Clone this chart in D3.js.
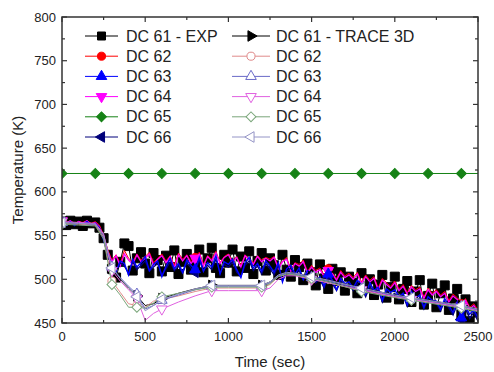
<!DOCTYPE html>
<html>
<head>
<meta charset="utf-8">
<script src="https://cdn.jsdelivr.net/npm/d3@7"></script>
<style>
    body { margin: 0; background: #fff; }
    svg { display: block; font-family: "Liberation Sans", Arial, sans-serif; }
</style>
</head>
<body>
<svg id="chart" width="494" height="372"></svg>
<script>
// measured series, one sample every 25 s
const expTime = d3.range(0, 2501, 25);
const dc61Exp = [566,562,567,563,566,561,567,564,565,559,
                 547,528,512,502,520,541,538,510,524,531,
                 518,507,530,522,509,527,514,533,506,520,
                 529,511,518,534,508,524,536,513,507,528,
                 519,534,509,526,513,532,506,521,530,510,
                 524,516,505,528,511,503,522,514,499,518,
                 508,493,517,501,489,512,498,508,487,503,
                 496,484,507,490,500,482,494,505,479,491,
                 503,477,489,498,474,486,499,471,481,495,
                 468,484,493,465,478,489,460,477,452,469,
                 462];
const dc62Exp = [566,565,567,564,566,565,567,564,566,562,
                 550,534,522,528,518,533,524,520,529,522,
                 526,531,519,524,529,521,527,516,530,523,
                 528,520,525,531,517,527,523,532,519,526,
                 529,521,526,516,528,523,519,527,522,525,
                 523,526,514,521,525,511,519,517,522,509,
                 516,510,513,505,512,507,501,510,504,507,
                 502,508,497,505,499,503,490,501,496,492,
                 498,489,494,485,493,488,491,480,490,484,
                 488,482,486,476,483,479,472,478,468,472,
                 465];
const dc63Exp = [565,563,566,562,565,563,566,562,564,558,
                 545,528,515,509,521,518,505,523,514,519,
                 526,510,517,521,503,515,524,512,518,508,
                 522,516,511,525,509,519,514,527,506,520,
                 517,523,511,502,519,525,513,518,509,521,
                 515,508,519,497,512,516,506,513,500,510,
                 507,498,503,492,506,499,488,501,495,497,
                 490,499,494,483,496,487,491,476,489,485,
                 488,480,484,471,486,478,482,468,480,476,
                 475,466,478,470,462,474,456,469,460,465,
                 456];
const dc64Exp = [567,564,567,563,566,564,567,563,565,560,
                 548,532,520,527,515,529,522,517,528,520,
                 524,529,516,523,527,519,526,513,528,521,
                 527,518,524,529,515,526,521,530,518,525,
                 528,519,525,514,527,522,517,526,520,524,
                 521,525,512,520,523,509,518,515,520,507,
                 514,508,511,503,510,506,499,508,502,505,
                 500,506,495,503,497,501,488,499,494,490,
                 496,487,492,483,491,486,489,478,488,482,
                 486,480,484,474,481,477,470,476,466,470,
                 462];
const dc66Exp = [565,562,566,561,565,562,566,562,564,559,
                 546,530,513,508,519,515,507,520,511,516,
                 521,509,514,518,505,512,520,510,515,507,
                 519,513,508,522,510,516,511,523,507,517,
                 514,520,508,503,516,521,510,515,506,518,
                 512,505,516,498,509,513,504,510,499,507,
                 503,496,500,490,503,495,487,498,492,494,
                 487,495,490,480,492,484,488,474,486,481,
                 484,477,481,469,482,475,479,466,477,473,
                 472,464,475,467,459,471,454,466,455,462,
                 452];
const expMarkTimes = [0, 800, 1600, 2400];

// DC 65 measured, flat
const dc65Time = [0, 200, 400, 600, 800, 1000, 1200, 1400, 1600, 1800, 2000, 2200, 2400, 2500];
const dc65Exp  = [621, 621, 621, 621, 621, 621, 621, 621, 621, 621, 621, 621, 621, 621];

// TRACE 3D results
const traceTime = [0,100,200,250,300,350,400,450,500,550,600,700,800,900,1000,1100,1200,1250,1300,1350,1400,1500,1600,1800,2000,2100,2200,2400,2500];
const dc61Trace = [565,564,563,550,512,500,490,481,470,472,478,484,489,493,493,493,493,497,505,508,507,503,499,490,482,479,476,470,466];
const dc62Trace = [564,563,562,548,498,485,472,470,468,475,477,481,486,490,490,490,490,494,503,506,505,500,496,487,480,477,474,468,464];
const dc63Trace = [565,564,563,551,514,502,492,483,466,470,476,482,488,492,492,492,492,496,504,507,506,502,498,489,481,478,475,469,465];
const dc64Trace = [566,565,564,552,510,498,488,478,453,461,466,474,481,487,487,487,487,490,500,504,504,500,496,488,480,477,474,468,464];
const dc65Trace = [563,562,561,546,494,482,468,468,467,473,480,484,488,491,491,491,491,495,503,506,505,501,497,486,479,476,473,467,463];
const dc66Trace = [565,564,563,550,513,501,491,480,464,470,477,483,489,493,493,493,493,497,505,508,507,503,499,490,482,479,476,470,466];
const traceMarkTimes = [0, 300, 450, 600, 900, 1200, 1500, 1800, 2100, 2400];

const xTicks = [0, 500, 1000, 1500, 2000, 2500];
const yTicks = [450, 500, 550, 600, 650, 700, 750, 800];

const svg = d3.select("#chart");
const x = d3.scaleLinear().domain([0, 2500]).range([62, 478]);
const y = d3.scaleLinear().domain([450, 800]).range([323, 17]);

// marker shapes
function markerPath(shape, size) {
    const s = size * size;
    if (shape === "square") return d3.symbol().type(d3.symbolSquare).size(s)();
    if (shape === "circle") return d3.symbol().type(d3.symbolCircle).size(s * 0.8)();
    if (shape === "diamond") return d3.symbol().type(d3.symbolSquare).size(s * 0.6)();
    return d3.symbol().type(d3.symbolTriangle).size(s * 0.6)();
}
function markerRotate(shape) {
    return { down: 180, left: -90, right: 90, diamond: 45 }[shape] || 0;
}

// draw order; key = legend position
const series = [
    { key: 0, name: "DC 61 - EXP", t: expTime, v: dc61Exp, color: "#000", shape: "square", fill: "#000", marks: null, size: 8, plotSize: 9, lw: 1 },
    { key: 1, name: "DC 62", t: expTime, v: dc62Exp, color: "#ff0000", shape: "circle", fill: "#ff0000", marks: expMarkTimes, size: 8, lw: 1 },
    { key: 3, name: "DC 64", t: expTime, v: dc64Exp, color: "#ff00ff", shape: "down", fill: "#ff00ff", marks: expMarkTimes, size: 9, lw: 1.3 },
    { key: 5, name: "DC 66", t: expTime, v: dc66Exp, color: "#00007a", shape: "left", fill: "#00007a", marks: expMarkTimes, size: 9, lw: 1.3 },
    { key: 2, name: "DC 63", t: expTime, v: dc63Exp, color: "#0000ff", shape: "up", fill: "#0000ff", marks: expMarkTimes, size: 9, lw: 1.4 },
    { key: 4, name: "DC 65", t: dc65Time, v: dc65Exp, color: "#168216", shape: "diamond", fill: "#168216", marks: dc65Time.slice(0, -1), size: 9, lw: 1 },
    { key: 6, name: "DC 61 - TRACE 3D", t: traceTime, v: dc61Trace, color: "#000", shape: "right", fill: "#000", marks: traceMarkTimes, size: 9, lw: 1 },
    { key: 7, name: "DC 62", t: traceTime, v: dc62Trace, color: "#e08a8a", shape: "circle", fill: "#fff", marks: traceMarkTimes, size: 8, lw: 1 },
    { key: 8, name: "DC 63", t: traceTime, v: dc63Trace, color: "#6a6ac8", shape: "up", fill: "#fff", marks: traceMarkTimes, size: 9, lw: 1 },
    { key: 9, name: "DC 64", t: traceTime, v: dc64Trace, color: "#e060e0", shape: "down", fill: "#fff", marks: traceMarkTimes, size: 9, lw: 1 },
    { key: 10, name: "DC 65", t: traceTime, v: dc65Trace, color: "#7aa67a", shape: "diamond", fill: "#fff", marks: traceMarkTimes, size: 9, lw: 1 },
    { key: 11, name: "DC 66", t: traceTime, v: dc66Trace, color: "#9494c6", shape: "left", fill: "#fff", marks: traceMarkTimes, size: 9, lw: 1 }
];

svg.append("defs").append("clipPath")
   .attr("id", "plotClip")
   .append("rect")
   .attr("x", 62).attr("y", 17)
   .attr("width", 416).attr("height", 306);

const plot = svg.append("g").attr("clip-path", "url(#plotClip)");
const line = d3.line().x((d) => x(d[0])).y((d) => y(d[1]));

for (const s of series) {
    const pts = s.t.map((t, i) => [t, s.v[i]]);
    const g = plot.append("g");
    g.append("path")
     .attr("d", line(pts))
     .style("fill", "none")
     .style("stroke", s.color)
     .style("stroke-width", s.lw);
    const marked = s.marks ? pts.filter((p) => s.marks.includes(p[0])) : pts;
    g.selectAll("path.mk")
     .data(marked)
     .join("path")
     .attr("class", "mk")
     .attr("d", markerPath(s.shape, s.plotSize || s.size))
     .attr("transform", (d) => `translate(${x(d[0])},${y(d[1])}) rotate(${markerRotate(s.shape)})`)
     .style("fill", s.fill)
     .style("stroke", s.color)
     .style("stroke-width", 1);
}

// frame and ticks (inside, mirrored)
const axisColor = "#333";
svg.append("rect")
   .attr("x", 62).attr("y", 17)
   .attr("width", 416).attr("height", 306)
   .style("fill", "none").style("stroke", axisColor).style("stroke-width", 1.5);

const xMinor = d3.range(0, 2501, 250);
const yMinor = d3.range(450, 801, 25);
const ticks = svg.append("g").style("stroke", axisColor).style("stroke-width", 1.2);
for (const t of xMinor) {
    const len = t % 500 === 0 ? 5 : 3;
    ticks.append("line").attr("x1", x(t)).attr("x2", x(t)).attr("y1", 323).attr("y2", 323 - len);
    ticks.append("line").attr("x1", x(t)).attr("x2", x(t)).attr("y1", 17).attr("y2", 17 + len);
}
for (const v of yMinor) {
    const len = v % 50 === 0 ? 5 : 3;
    ticks.append("line").attr("x1", 62).attr("x2", 62 + len).attr("y1", y(v)).attr("y2", y(v));
    ticks.append("line").attr("x1", 478).attr("x2", 478 - len).attr("y1", y(v)).attr("y2", y(v));
}

svg.append("g").selectAll("text")
   .data(xTicks)
   .join("text")
   .attr("x", (d) => x(d))
   .attr("y", 341)
   .attr("text-anchor", "middle")
   .style("font-size", "13px")
   .style("fill", "#222")
   .text((d) => d);

svg.append("g").selectAll("text")
   .data(yTicks)
   .join("text")
   .attr("x", 56)
   .attr("y", (d) => y(d) + 4.5)
   .attr("text-anchor", "end")
   .style("font-size", "13px")
   .style("fill", "#222")
   .text((d) => d);

svg.append("text")
   .attr("x", 270).attr("y", 367)
   .attr("text-anchor", "middle")
   .style("font-size", "15px")
   .style("fill", "#222")
   .text("Time (sec)");

svg.append("text")
   .attr("transform", "translate(23,170) rotate(-90)")
   .attr("text-anchor", "middle")
   .style("font-size", "15px")
   .style("fill", "#222")
   .text("Temperature (K)");

// legend, two columns of six
const legend = svg.append("g");
for (const s of series) {
    const col = s.key < 6 ? 0 : 1;
    const row = s.key % 6;
    const x0 = col === 0 ? 85 : 232;
    const x1 = col === 0 ? 118 : 270;
    const cy = 36 + row * 20.2;
    legend.append("line")
          .attr("x1", x0).attr("x2", x1).attr("y1", cy).attr("y2", cy)
          .style("stroke", s.color).style("stroke-width", 1);
    legend.append("path")
          .attr("d", markerPath(s.shape, s.size))
          .attr("transform", `translate(${(x0 + x1) / 2},${cy}) rotate(${markerRotate(s.shape)})`)
          .style("fill", s.fill)
          .style("stroke", s.color);
    legend.append("text")
          .attr("x", col === 0 ? 126 : 276)
          .attr("y", cy + 5.5)
          .style("font-size", "16px")
          .style("fill", "#222")
          .text(s.name);
}
</script>
</body>
</html>
